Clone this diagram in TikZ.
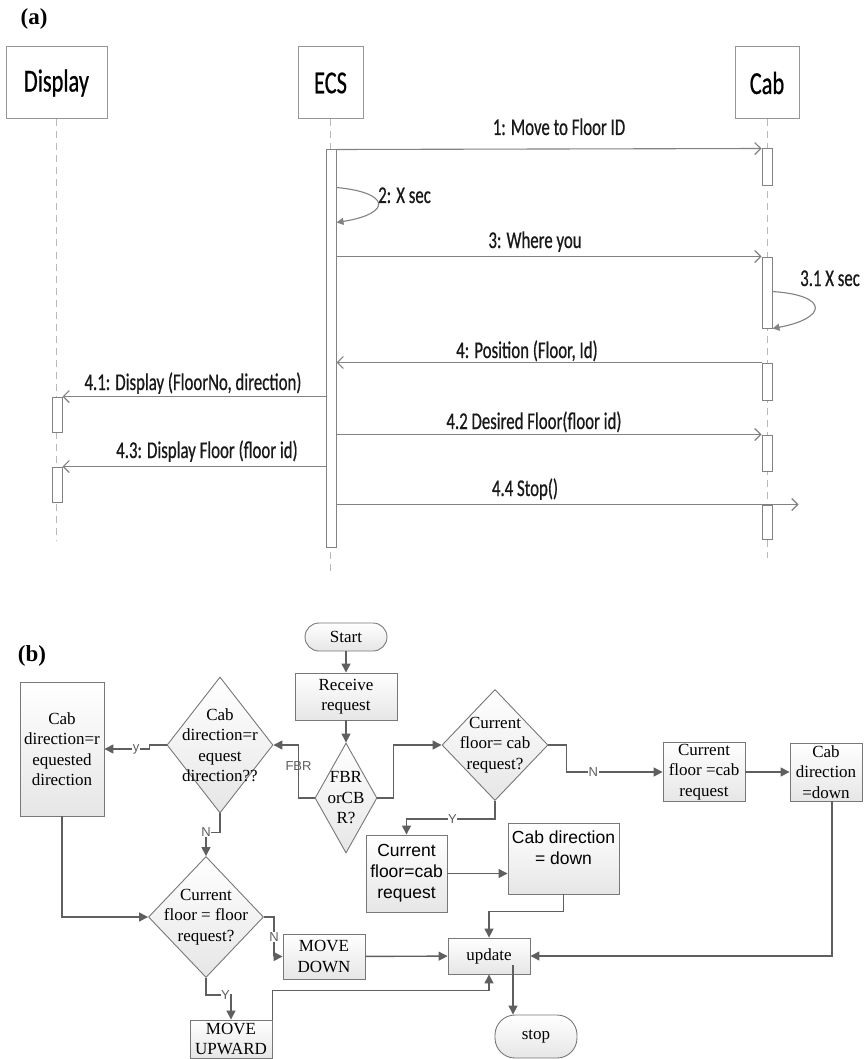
\documentclass[tikz,border=0pt]{standalone}
\usepackage{fontspec}
\setmainfont{Liberation Serif}
\setsansfont{Liberation Sans}
\newfontfamily\seqfont[FakeStretch=0.7, FakeBold=0.6]{Carlito}
\usepackage{xcolor}
\usepackage{tikz}
\usetikzlibrary{arrows.meta, shapes.geometric}
\definecolor{seqline}{RGB}{130,130,130}
\definecolor{seqdash}{RGB}{185,185,185}
\definecolor{seqframe}{RGB}{150,150,150}
\definecolor{fcline}{RGB}{95,95,95}
\definecolor{fcframe}{RGB}{120,120,120}
\definecolor{fcfill}{RGB}{230,230,230}
\newcommand\headfont{\seqfont\fontsize{32}{36}\selectfont}
\newcommand\msgfont{\seqfont\fontsize{24}{28}\selectfont}
\newcommand\fcserif{\rmfamily\fontsize{17}{20.5}\selectfont}
\newcommand\fcsans{\sffamily\fontsize{17.5}{21}\selectfont}
\newcommand\edgefont{\sffamily\fontsize{13}{15}\selectfont}
\tikzset{
  tag/.style={font=\rmfamily\bfseries\fontsize{23}{26}\selectfont, inner sep=0pt},
  headbox/.style={
    rectangle, draw=seqframe, line width=1pt, fill=white,
    minimum height=72pt, font=\headfont, inner sep=0pt
  },
  actbar/.style={
    rectangle, draw=seqline, line width=1pt, fill=white,
    minimum width=10pt, inner sep=0pt
  },
  lifeline/.style={draw=seqdash, line width=1pt, dash pattern=on 7pt off 5pt},
  msgarrow/.style={
    -{Straight Barb[length=6pt,width=12pt]}, draw=seqline, line width=1.1pt
  },
  selfloop/.style={
    -{Triangle[length=7pt,width=7pt]}, draw=seqline, line width=1.1pt
  },
  msglabel/.style={font=\msgfont, text=black!90, inner sep=0pt, anchor=base},
  procbox/.style={
    rectangle, draw=fcframe, line width=0.9pt,
    top color=white, bottom color=fcfill,
    align=center, font=\fcserif, inner sep=2pt
  },
  terminal/.style={procbox},
  decision/.style={
    diamond, draw=fcframe, line width=0.9pt,
    top color=white, bottom color=fcfill, inner sep=0pt
  },
  dectext/.style={font=\fcserif, align=center, inner sep=0pt},
  flowarrow/.style={
    -{Triangle[length=9pt,width=9pt]}, draw=fcline, line width=1.4pt
  },
  edgelabel/.style={font=\edgefont, text=fcline, fill=white, inner sep=0.5pt}
}

\begin{document}
\begin{tikzpicture}[x=1pt, y=-1pt]
  \useasboundingbox[fill=white] (0,0) rectangle (865,1059);

  % (a) sequence diagram
  \node[tag] (taga) at (34,19) {(a)};
  \node[headbox, minimum width=101pt] (display) at (56.5,83) {Display};
  \node[headbox, minimum width=65pt] (ecs) at (330.5,83) {ECS};
  \node[headbox, minimum width=64pt] (cab) at (767,83) {Cab};

  \draw[lifeline] (display.south) -- ++(0,421);
  \draw[lifeline] (ecs.south) -- ++(0,456);
  \draw[lifeline] (cab.south) -- ++(0,438);

  \node[actbar, minimum height=397pt] (ecsbar) at (331,348.5) {};
  \node[actbar, minimum height=37pt] (cab1) at (767,167.5) {};
  \node[actbar, minimum height=71pt] (cab2) at (767,292.5) {};
  \node[actbar, minimum height=37pt] (cab3) at (767,381.5) {};
  \node[actbar, minimum height=36pt] (cab4) at (767,453) {};
  \node[actbar, minimum height=34pt] (cab5) at (767,522) {};
  \node[actbar, minimum height=35pt] (disp1) at (57,414.5) {};
  \node[actbar, minimum height=35pt] (disp2) at (57,484.5) {};

  \draw[msgarrow] (ecsbar.north east) -- (cab1.north west);
  \draw[selfloop] ([yshift=-38pt]ecsbar.north east)
    .. controls +(54,5) and +(56,-9) .. ([yshift=-73pt]ecsbar.north east);
  \draw[msgarrow] (ecsbar.east |- cab2.north) -- (cab2.north west);
  \draw[selfloop] ([yshift=-35pt]cab2.north east)
    .. controls +(58,4) and +(54,-10) .. (cab2.south east);
  \draw[msgarrow] (cab3.north west) -- (cab3.north -| ecsbar.east);
  \draw[msgarrow] (disp1.north -| ecsbar.west) -- (disp1.north east);
  \draw[msgarrow] (ecsbar.east |- cab4.north) -- (cab4.north west);
  \draw[msgarrow] (disp2.north -| ecsbar.west) -- (disp2.north east);
  \draw[msgarrow] (ecsbar.east |- cab5.north) -- ([xshift=26pt]cab5.north east);

  \node[msglabel] (l1) at (559,135) {1: Move to Floor ID};
  \node[msglabel, anchor=base west] (l2) at (378,203) {2: X sec};
  \node[msglabel] (l3) at (535,248) {3: Where you};
  \node[msglabel, anchor=base west] (l31) at (800,286) {3.1 X sec};
  \node[msglabel] (l4) at (527,358) {4: Position (Floor, Id)};
  \node[msglabel] (l41) at (193,390) {4.1: Display (FloorNo, direction)};
  \node[msglabel] (l42) at (534,429) {4.2 Desired Floor(floor id)};
  \node[msglabel] (l43) at (207,458) {4.3: Display Floor (floor id)};
  \node[msglabel] (l44) at (525,496) {4.4 Stop()};

  % (b) flowchart
  \node[tag] (tagb) at (32,656) {(b)};
  \node[terminal, minimum width=82pt, minimum height=28pt, rounded corners=14pt] (start) at (346,637) {Start};
  \node[procbox, minimum width=102pt, minimum height=47pt] (recv) at (346,696.5) {Receive\\request};
  \node[decision, minimum width=62pt, minimum height=110pt,
    label={[dectext]center:{FBR\\orCB\\R?}}] (fbr) at (346,798) {};
  \node[decision, minimum width=106pt, minimum height=136pt,
    label={[dectext]center:{Cab\\direction=r\\equest\\direction??}}] (cdq) at (220,745) {};
  \node[procbox, minimum width=84pt, minimum height=134pt] (cdr) at (62,749) {Cab\\direction=r\\equested\\direction};
  \node[decision, minimum width=106pt, minimum height=111pt,
    label={[dectext]center:{Current\\floor= cab\\request?}}] (cf1) at (495,745) {};
  \node[procbox, minimum width=82pt, minimum height=58pt] (cfr1) at (704,772) {Current\\floor =cab\\request};
  \node[procbox, minimum width=72pt, minimum height=58pt] (cd1) at (826,772) {Cab\\direction\\=down};
  \node[procbox, font=\fcsans, minimum width=81pt, minimum height=77pt] (cfr2) at (406.5,873.5) {Current\\floor=cab\\request};
  \node[procbox, font=\fcsans, minimum width=111pt, minimum height=71pt] (cd2) at (563.5,858.5) {Cab direction\\= down\\\mbox{}};
  \node[decision, minimum width=115pt, minimum height=121pt,
    label={[dectext]center:{Current\\floor = floor\\request?}}] (cfq) at (206,917) {};
  \node[procbox, minimum width=82pt, minimum height=45pt] (md) at (324,956.5) {MOVE\\DOWN};
  \node[procbox, minimum width=82pt, minimum height=38pt, inner sep=1pt] (mu) at (231,1039) {MOVE\\UPWARD};
  \node[procbox, minimum width=82pt, minimum height=36pt] (upd) at (489,956) {update};
  \node[terminal, minimum width=82pt, minimum height=43pt, rounded corners=20pt] (stop) at (536,1036.5) {stop};

  \draw[flowarrow] (start) -- (recv);
  \draw[flowarrow] (recv) -- (fbr);
  \draw[flowarrow] (fbr.west) -- ++(-16,0) |- node[edgelabel, fill=none, pos=0.3] {FBR} (cdq.east);
  \draw[flowarrow] (fbr.east) -- ++(16,0) |- (cf1.west);
  \draw[flowarrow] (cf1.east) -- ++(18,0) |- node[edgelabel, pos=0.64] {N} (cfr1.west);
  \draw[flowarrow] (cfr1) -- (cd1);
  \draw[flowarrow] ([xshift=6pt]cd1.south) |- (upd.east);
  \draw[flowarrow] (cf1.south) -- ++(0,18) -| node[edgelabel, pos=0.24] {Y} (cfr2.north);
  \draw[flowarrow] (cfr2) -- (cfr2 -| cd2.west);
  \draw[flowarrow] (cd2.south) -- ++(0,17) -| (upd.north);
  \draw[flowarrow] ([xshift=24pt,yshift=-9pt]upd.center) -- ([xshift=-23pt]stop.north);
  \draw[flowarrow] (cdq.west) -- ++(-17,0) |- node[edgelabel, pos=0.65] {y} (cdr.east);
  \draw[flowarrow] (cdr.south) |- (cfq.west);
  \draw[flowarrow] (cdq.south) -- ++(0,19) -| node[edgelabel, pos=0.5] {N} (cfq.north);
  \draw[flowarrow] (cfq.east) -- ++(10,0) |- node[edgelabel, pos=0.25] {N} (md.west);
  \draw[flowarrow] (md) -- (upd);
  \draw[flowarrow] (cfq.south) -- ++(0,17) -| node[edgelabel, pos=0.39] {Y} (mu.north);
  \draw[flowarrow] (mu.north east) -- ++(0,-29) -| (upd.south);
\end{tikzpicture}
\end{document}
